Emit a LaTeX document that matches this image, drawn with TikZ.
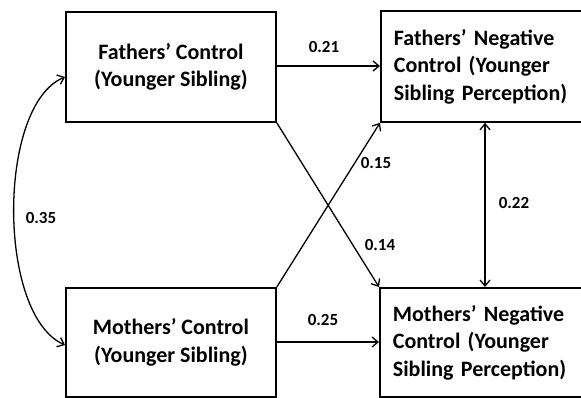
\documentclass[tikz,border=0pt]{standalone}
\usepackage{fontspec}
\setmainfont{Carlito}
\usetikzlibrary{arrows.meta}
\begin{document}
\begin{tikzpicture}[x=1pt,y=-1pt,
  box/.style={draw=black,line width=1.8pt,font=\fontsize{22}{27.5}\selectfont\bfseries,inner sep=0pt},
  lbox/.style={box,text width=196pt,inner xsep=13pt,align=left,minimum height=111pt},
  cbox/.style={box,minimum width=210pt,minimum height=110pt,align=center},
  conn/.style={line width=1.3pt,-{Straight Barb[length=6pt,width=10pt]}},
  dconn/.style={line width=1.3pt,{Straight Barb[length=6pt,width=10pt]}-{Straight Barb[length=6pt,width=10pt]}},
  lab/.style={font=\fontsize{17}{19}\selectfont\bfseries,inner sep=0pt}]
\clip (0,0) rectangle (581,397);
\fill[white] (0,0) rectangle (581,397);
\node[cbox,anchor=north west] (fc) at (65,11) {Fathers’ Control\\(Younger Sibling)};
\node[cbox,anchor=north west,minimum height=109pt] (mc) at (65,287) {Mothers’ Control\\(Younger Sibling)};
\node[lbox,anchor=north west] (fn) at (380,10) {Fathers’ Negative\\Control (Younger\\Sibling Perception)};
\node[lbox,anchor=north west,minimum height=109pt] (mn) at (379,287) {Mothers’ Negative\\Control (Younger\\Sibling Perception)};
\coordinate (fcA) at (fc.east |- 0,66);
\coordinate (fnA) at (fn.west |- 0,66);
\coordinate (mcA) at (mc.east |- 0,342);
\coordinate (mnA) at (mn.west |- 0,342);
\draw[conn] (fcA) -- (fnA);
\draw[conn] (mcA) -- (mnA);
\draw[conn] (fc.south east) -- (mn.north west);
\draw[conn] (mc.north east) -- (fn.south west);
\coordinate (vt) at (fn.south -| 485,0);
\coordinate (vb) at (mn.north -| 485,0);
\draw[dconn] (vt) -- (vb);
\coordinate (cl1) at (fc.west |- 0,77);
\coordinate (cl2) at (mc.west |- 0,345);
\draw[dconn] (cl1) .. controls (-3,105) and (-3,315) .. (cl2);
\node[lab] (l21) at (324,47) {0.21};
\node[lab] (l25) at (323,320) {0.25};
\node[lab] (l14) at (380,245) {0.14};
\node[lab] (l15) at (376,163) {0.15};
\node[lab] (l22) at (514,203) {0.22};
\node[lab] (l35) at (41,218) {0.35};
\end{tikzpicture}
\end{document}
